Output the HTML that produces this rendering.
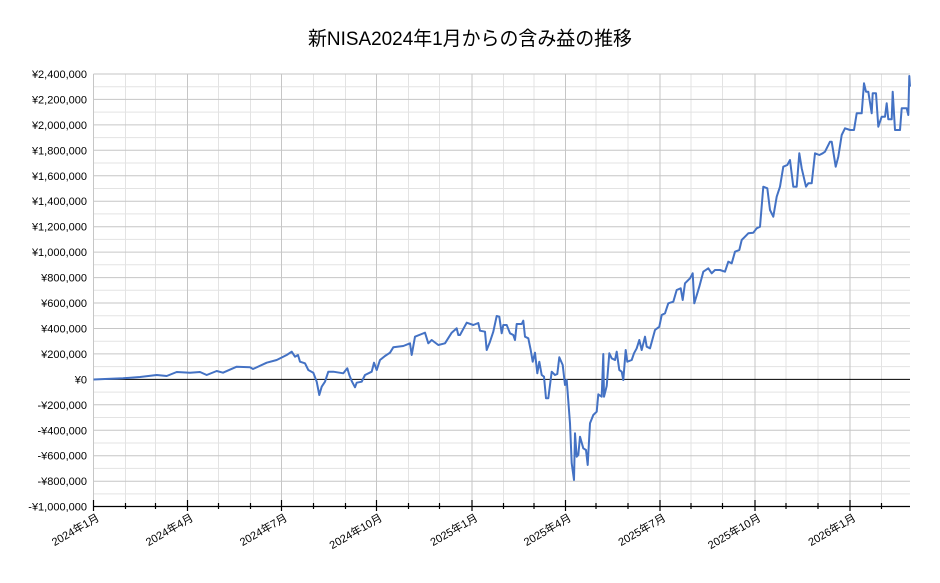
<!DOCTYPE html>
<html><head><meta charset="utf-8"><style>
html,body{margin:0;padding:0;background:#fff;}
svg{display:block;font-family:"Liberation Sans","Noto Sans CJK JP",sans-serif;}
</style></head><body>
<svg width="940" height="583" viewBox="0 0 940 583" xmlns="http://www.w3.org/2000/svg">
<rect width="940" height="583" fill="#fff"/>
<text x="470" y="45" font-size="19.5" text-anchor="middle" textLength="324" lengthAdjust="spacingAndGlyphs" fill="#000">新NISA2024年1月からの含み益の推移</text>
<g stroke="#e3e3e3" stroke-width="1">
<line x1="93.5" x2="910" y1="86.7" y2="86.7"/><line x1="93.5" x2="910" y1="112.1" y2="112.1"/><line x1="93.5" x2="910" y1="137.6" y2="137.6"/><line x1="93.5" x2="910" y1="163" y2="163"/><line x1="93.5" x2="910" y1="188.5" y2="188.5"/><line x1="93.5" x2="910" y1="213.9" y2="213.9"/><line x1="93.5" x2="910" y1="239.4" y2="239.4"/><line x1="93.5" x2="910" y1="264.8" y2="264.8"/><line x1="93.5" x2="910" y1="290.3" y2="290.3"/><line x1="93.5" x2="910" y1="315.7" y2="315.7"/><line x1="93.5" x2="910" y1="341.2" y2="341.2"/><line x1="93.5" x2="910" y1="366.6" y2="366.6"/><line x1="93.5" x2="910" y1="392.1" y2="392.1"/><line x1="93.5" x2="910" y1="417.5" y2="417.5"/><line x1="93.5" x2="910" y1="443" y2="443"/><line x1="93.5" x2="910" y1="468.4" y2="468.4"/><line x1="93.5" x2="910" y1="493.9" y2="493.9"/>
<line y1="74" y2="506" x1="125.5" x2="125.5"/><line y1="74" y2="506" x1="155.5" x2="155.5"/><line y1="74" y2="506" x1="218.5" x2="218.5"/><line y1="74" y2="506" x1="250.5" x2="250.5"/><line y1="74" y2="506" x1="313.5" x2="313.5"/><line y1="74" y2="506" x1="345.5" x2="345.5"/><line y1="74" y2="506" x1="408.5" x2="408.5"/><line y1="74" y2="506" x1="439.5" x2="439.5"/><line y1="74" y2="506" x1="503.5" x2="503.5"/><line y1="74" y2="506" x1="534" x2="534"/><line y1="74" y2="506" x1="596" x2="596"/><line y1="74" y2="506" x1="628" x2="628"/><line y1="74" y2="506" x1="691" x2="691"/><line y1="74" y2="506" x1="722.5" x2="722.5"/><line y1="74" y2="506" x1="786" x2="786"/><line y1="74" y2="506" x1="818" x2="818"/><line y1="74" y2="506" x1="881.5" x2="881.5"/>
</g>
<g stroke="#c6c6c6" stroke-width="1">
<line x1="93.5" x2="910" y1="74" y2="74"/><line x1="93.5" x2="910" y1="99.4" y2="99.4"/><line x1="93.5" x2="910" y1="124.9" y2="124.9"/><line x1="93.5" x2="910" y1="150.3" y2="150.3"/><line x1="93.5" x2="910" y1="175.8" y2="175.8"/><line x1="93.5" x2="910" y1="201.2" y2="201.2"/><line x1="93.5" x2="910" y1="226.7" y2="226.7"/><line x1="93.5" x2="910" y1="252.1" y2="252.1"/><line x1="93.5" x2="910" y1="277.6" y2="277.6"/><line x1="93.5" x2="910" y1="303" y2="303"/><line x1="93.5" x2="910" y1="328.5" y2="328.5"/><line x1="93.5" x2="910" y1="353.9" y2="353.9"/><line x1="93.5" x2="910" y1="404.8" y2="404.8"/><line x1="93.5" x2="910" y1="430.3" y2="430.3"/><line x1="93.5" x2="910" y1="455.7" y2="455.7"/><line x1="93.5" x2="910" y1="481.2" y2="481.2"/>
<line y1="74" y2="506" x1="93.5" x2="93.5"/><line y1="74" y2="506" x1="187.5" x2="187.5"/><line y1="74" y2="506" x1="281.5" x2="281.5"/><line y1="74" y2="506" x1="376.5" x2="376.5"/><line y1="74" y2="506" x1="472" x2="472"/><line y1="74" y2="506" x1="565.5" x2="565.5"/><line y1="74" y2="506" x1="660" x2="660"/><line y1="74" y2="506" x1="755" x2="755"/><line y1="74" y2="506" x1="850" x2="850"/>
</g>
<line x1="93.5" x2="910" y1="379.4" y2="379.4" stroke="#000" stroke-width="1"/>
<line x1="93.5" x2="910" y1="506.5" y2="506.5" stroke="#000" stroke-width="1.3"/>
<g stroke="#000" stroke-width="1.2">
<line x1="93.5" x2="93.5" y1="500" y2="511"/><line x1="187.5" x2="187.5" y1="500" y2="511"/><line x1="281.5" x2="281.5" y1="500" y2="511"/><line x1="376.5" x2="376.5" y1="500" y2="511"/><line x1="472" x2="472" y1="500" y2="511"/><line x1="565.5" x2="565.5" y1="500" y2="511"/><line x1="660" x2="660" y1="500" y2="511"/><line x1="755" x2="755" y1="500" y2="511"/><line x1="850" x2="850" y1="500" y2="511"/>
<line x1="125.5" x2="125.5" y1="503" y2="509"/><line x1="155.5" x2="155.5" y1="503" y2="509"/><line x1="218.5" x2="218.5" y1="503" y2="509"/><line x1="250.5" x2="250.5" y1="503" y2="509"/><line x1="313.5" x2="313.5" y1="503" y2="509"/><line x1="345.5" x2="345.5" y1="503" y2="509"/><line x1="408.5" x2="408.5" y1="503" y2="509"/><line x1="439.5" x2="439.5" y1="503" y2="509"/><line x1="503.5" x2="503.5" y1="503" y2="509"/><line x1="534" x2="534" y1="503" y2="509"/><line x1="596" x2="596" y1="503" y2="509"/><line x1="628" x2="628" y1="503" y2="509"/><line x1="691" x2="691" y1="503" y2="509"/><line x1="722.5" x2="722.5" y1="503" y2="509"/><line x1="786" x2="786" y1="503" y2="509"/><line x1="818" x2="818" y1="503" y2="509"/><line x1="881.5" x2="881.5" y1="503" y2="509"/>
</g>
<g font-size="11" text-anchor="end" fill="#000">
<text x="87" y="78">¥2,400,000</text><text x="87" y="103.4">¥2,200,000</text><text x="87" y="128.9">¥2,000,000</text><text x="87" y="154.3">¥1,800,000</text><text x="87" y="179.8">¥1,600,000</text><text x="87" y="205.2">¥1,400,000</text><text x="87" y="230.7">¥1,200,000</text><text x="87" y="256.1">¥1,000,000</text><text x="87" y="281.6">¥800,000</text><text x="87" y="307">¥600,000</text><text x="87" y="332.5">¥400,000</text><text x="87" y="357.9">¥200,000</text><text x="87" y="383.4">¥0</text><text x="87" y="408.8">-¥200,000</text><text x="87" y="434.3">-¥400,000</text><text x="87" y="459.7">-¥600,000</text><text x="87" y="485.2">-¥800,000</text><text x="87" y="510.6">-¥1,000,000</text>
</g>
<g font-size="11" text-anchor="end" fill="#000">
<text transform="translate(100,520) rotate(-30)">2024年1月</text>
<text transform="translate(194,520) rotate(-30)">2024年4月</text>
<text transform="translate(288,520) rotate(-30)">2024年7月</text>
<text transform="translate(383,520) rotate(-30)">2024年10月</text>
<text transform="translate(478.5,520) rotate(-30)">2025年1月</text>
<text transform="translate(572,520) rotate(-30)">2025年4月</text>
<text transform="translate(666.5,520) rotate(-30)">2025年7月</text>
<text transform="translate(761.5,520) rotate(-30)">2025年10月</text>
<text transform="translate(856.5,520) rotate(-30)">2026年1月</text>
</g>
<polyline fill="none" stroke="#4472C4" stroke-width="2" stroke-linejoin="round" points="
93.5,379.5 105,379 123,378.3 140,377 156.7,375 166.7,376 176.7,372 190,372.7 200,372 206.7,375 216.7,371 223,372.7 236.7,366.7 250,367.3 253,369 266.7,362.7 276.7,360 286.7,355 291.7,351.7 295,356.7 298,355 300,361.7 305,363.3 308.3,370 313.3,372.7 316.7,381.7 319.3,395 321.7,386.7 325,381.7 328.3,371.7 333.3,371.7 343.3,373.3 347.3,368.3 349.3,375 351.7,381 355,387.3 356.7,382.7 361.7,381.7 365,375 371.7,371.7 374,362.7 376.7,370 380,360 385,356 390,352.7 393.3,347.3 403.3,346 410,343.3 411.7,355 415,336.7 421.7,334 425,332.7 428.3,343.3 431.7,340 438.3,345 445,343.3 451.7,332.7 456.7,328.3 458.3,335 460,335 466.7,322.7 473.3,325 478.3,323 480,330.7 485,331.7 486.7,350 490,341.7 493.3,331.7 496.7,316 499.3,316.7 501.7,333.3 503.3,325 506.7,325 510,333.3 513.3,335 515,340 516.7,324 521.7,324 523.3,320.7 525,336.7 528.3,338.3 530.7,350 532.7,361.7 535,352.7 537.3,373.3 539.3,361.7 541.7,375 544,376.7 546,398.3 548.3,398.3 551.7,371.7 555,375 557.3,374 559.3,357.3 562.7,365 565,385 566.7,380 570,423.3 571.7,463.3 574,480 575,433.3 576.7,456.7 578.3,455 580,436.7 583.3,448.3 586,450 587.7,465 590,423.3 593.3,415 596.7,411.7 598.3,394.3 601.7,396.7 603.3,354 604,396.7 606.7,386 609.3,353.3 611.7,358.3 615,360 616.7,351.7 619.3,370 621.7,371.7 623.3,380 625.7,350 627.3,361.7 631.7,360 634,353.3 636.7,348.3 639.3,340 641.7,350 645,336.7 646.7,346.7 650,348.3 655,330 659.3,326.7 661.7,315 665,313.3 668.3,303.3 673.3,301.7 676.7,290 680.7,288.3 682.7,300 685,283.3 690,278.3 692.7,273.3 694.3,303.3 699.3,286.7 703.3,271.7 708.3,268.3 711.7,273.3 715,270 720,270 725,271.7 728.3,261.7 731.7,263.3 735,251.7 739.3,250 741.7,240 745,236.7 748.3,233.3 753.3,232.7 756.7,228.3 760,226.7 763.3,186.7 767.3,188.3 770,210 773.3,216.7 776.7,196.7 780,186.7 783.3,166.7 787.3,165 790,160 793.3,186.7 796.7,186.7 799.3,153.3 801.7,168.3 806,186.7 808.3,183.3 811.7,183.3 815,153.3 819.3,155 822.7,153.3 825,151.7 830,141.7 831.7,141.7 835.7,166.7 838.3,156.7 841.7,135 845,128.3 850,130 854,130 856.7,113.3 861.7,113.3 864,83.3 866,91.7 868.3,91.7 871.7,113.3 872.7,93.3 876,93.3 878.3,126.7 881.7,116.7 885,116.7 886.7,103.3 888.3,119.3 891.7,119.3 892.7,91.7 895,130 900,130 901.7,108.3 906.7,108.3 908.3,115 909.3,76 910,86.7
"/>
</svg>
</body></html>
